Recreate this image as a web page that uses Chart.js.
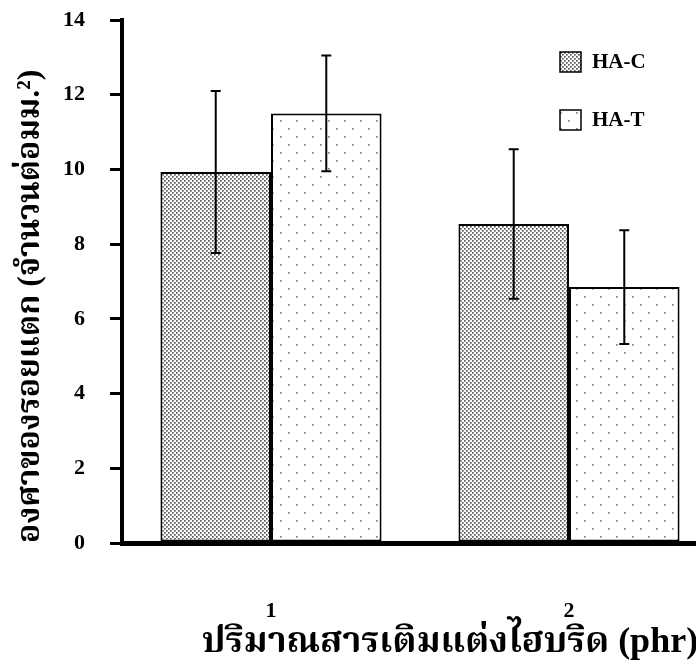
<!DOCTYPE html>
<html>
<head>
<meta charset="utf-8">
<script src="https://cdn.jsdelivr.net/npm/chart.js@4"></script>
<style>
  html, body { margin: 0; padding: 0; background: #fff; overflow: hidden; }
  #wrap { width: 718px; height: 663px; }
</style>
</head>
<body>
<div id="wrap"><canvas id="chart" width="718" height="663"></canvas></div>
<script>
const categories = ['1', '2'];
const seriesNames = ['HA-C', 'HA-T'];
const haC = [9.93, 8.54];
const haT = [11.5, 6.85];
const haCErr = [2.17, 2.0];
const haTErr = [1.55, 1.52];
const yTicks = [0, 2, 4, 6, 8, 10, 12, 14];
const xTitle = 'ปริมาณสารเติมแต่งไฮบริด (phr)';
const yTitle = 'องศาของรอยแตก (จำนวนต่อมม.²)';

const FONT = '"Liberation Serif", "Noto Serif Thai", "Noto Sans Thai", "Tlwg Typo", serif';

function makePattern(size, dots, dotColor, dotSize) {
  const c = document.createElement('canvas');
  c.width = size;
  c.height = size;
  const g = c.getContext('2d');
  g.fillStyle = '#fff';
  g.fillRect(0, 0, size, size);
  g.fillStyle = dotColor;
  dots.forEach(([x, y]) => g.fillRect(x, y, dotSize, dotSize));
  return g.createPattern(c, 'repeat');
}

const ctx = document.getElementById('chart').getContext('2d');
const denseDots = makePattern(4, [[0, 0], [2, 2]], '#5a5a5a', 1.7);
const sparseDots = makePattern(16, [[0, 0], [8, 8]], '#808080', 1.7);

// error bars on top of each bar
const errorBars = {
  id: 'errorBars',
  afterDatasetsDraw(chart) {
    const g = chart.ctx;
    const y = chart.scales.y;
    g.save();
    g.strokeStyle = '#000';
    g.lineWidth = 2;
    chart.data.datasets.forEach((ds, i) => {
      chart.getDatasetMeta(i).data.forEach((bar, j) => {
        const v = ds.data[j];
        const e = ds.errors[j];
        const top = y.getPixelForValue(v + e);
        const bot = y.getPixelForValue(v - e);
        g.beginPath();
        g.moveTo(bar.x, top);
        g.lineTo(bar.x, bot);
        g.moveTo(bar.x - 5, top);
        g.lineTo(bar.x + 5, top);
        g.moveTo(bar.x - 5, bot);
        g.lineTo(bar.x + 5, bot);
        g.stroke();
      });
    });
    g.restore();
  }
};

// legend inside the plot (top right) and the x title, which sits right of centre
const boxLegend = {
  id: 'boxLegend',
  afterDraw(chart) {
    const g = chart.ctx;
    const a = chart.chartArea;
    g.save();
    g.font = 'bold 21px ' + FONT;
    g.textBaseline = 'middle';
    chart.data.datasets.forEach((ds, i) => {
      const bx = a.left + 438;
      const by = a.top + 32 + i * 58;
      g.fillStyle = ds.backgroundColor;
      g.fillRect(bx, by, 21, 20);
      g.strokeStyle = '#000';
      g.lineWidth = 1.5;
      g.strokeRect(bx, by, 21, 20);
      g.fillStyle = '#000';
      g.fillText(ds.label, bx + 32, by + 11);
    });
    g.font = 'bold 36px ' + FONT;
    g.textAlign = 'center';
    g.fillText(xTitle, a.left + 328, a.bottom + 100);
    g.restore();
  }
};

new Chart(ctx, {
  type: 'bar',
  data: {
    labels: categories,
    datasets: [
      { label: seriesNames[0], data: haC, errors: haCErr, backgroundColor: denseDots, borderColor: '#000', borderWidth: 2, borderSkipped: false },
      { label: seriesNames[1], data: haT, errors: haTErr, backgroundColor: sparseDots, borderColor: '#000', borderWidth: 2, borderSkipped: false }
    ]
  },
  options: {
    responsive: false,
    animation: false,
    layout: { padding: { top: 20, left: 0, right: 0, bottom: 0 } },
    datasets: { bar: { categoryPercentage: 0.742, barPercentage: 1 } },
    plugins: { legend: { display: false }, tooltip: { enabled: false } },
    scales: {
      x: {
        grid: { display: false, drawTicks: false },
        border: { display: true, color: '#000', width: 5 },
        ticks: { color: '#000', padding: 55, font: { family: FONT, size: 22, weight: 'bold' } },
        afterFit(scale) {
          scale.height = 120;
          scale.paddingTop = 0;
        }
      },
      y: {
        min: 0,
        max: 14,
        afterBuildTicks(scale) { scale.ticks = yTicks.map(v => ({ value: v })); },
        grid: { drawOnChartArea: false, drawTicks: true, tickLength: 12, color: '#000', lineWidth: 3 },
        border: { display: true, color: '#000', width: 4 },
        ticks: { color: '#000', padding: 25, font: { family: FONT, size: 22, weight: 'bold' } },
        title: {
          display: true,
          text: yTitle,
          color: '#000',
          align: 'start',
          padding: { top: 12, bottom: 0 },
          font: { family: FONT, size: 32, weight: 'bold' }
        },
        afterFit(scale) {
          scale.width = 122;
          scale.paddingTop = 0;
          scale.paddingBottom = 0;
        }
      }
    }
  },
  plugins: [errorBars, boxLegend]
});
</script>
</body>
</html>
